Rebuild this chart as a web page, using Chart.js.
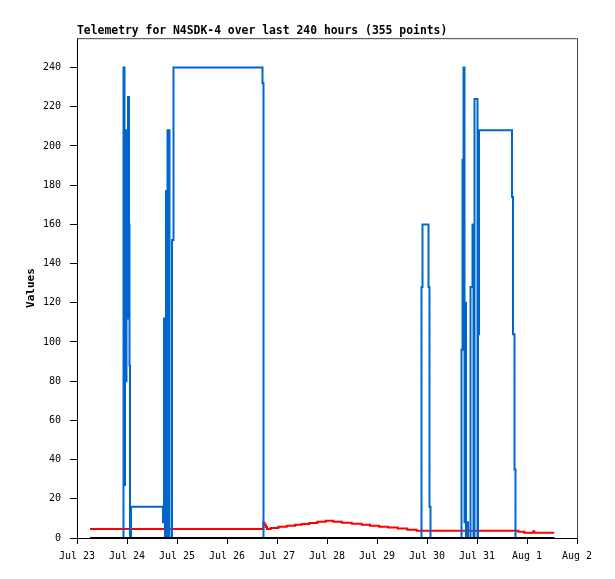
<!DOCTYPE html>
<html>
<head>
<meta charset="utf-8">
<script src="https://cdn.jsdelivr.net/npm/chart.js@4"></script>
<style>
  body { margin: 0; background: #fff; }
</style>
</head>
<body>
<canvas id="telemetry" width="615" height="579"></canvas>
<script>
// Axis labels (x values are days since Jul 23 00:00)
var dayLabels = ["Jul 23", "Jul 24", "Jul 25", "Jul 26", "Jul 27", "Jul 28", "Jul 29", "Jul 30", "Jul 31", "Aug 1", "Aug 2"];
var yTicks = [0, 20, 40, 60, 80, 100, 120, 140, 160, 180, 200, 220, 240];

// Blue series (stepped)
var blueDays = [0.26, 0.93, 0.95, 0.96, 0.97, 0.99, 1.01, 1.02, 1.04, 1.05, 1.06, 1.08,
    1.72, 1.74, 1.76, 1.78, 1.80, 1.81, 1.85, 1.90, 1.93, 3.71, 3.73,
    6.89, 6.91, 7.03, 7.05, 7.07,
    7.69, 7.71, 7.73, 7.75, 7.76, 7.78, 7.80, 7.82, 7.87, 7.91, 7.93, 7.95, 8.01, 8.02, 8.04,
    8.70, 8.72, 8.75, 8.77, 9.546];
var blueValues = [0, 240, 27, 133, 80, 208, 112, 225, 160, 88, 0, 16,
    8, 112, 0, 177, 0, 208, 0, 152, 240, 232, 0,
    128, 160, 128, 16, 0,
    96, 193, 240, 8, 120, 0, 8, 0, 128, 160, 0, 224, 0, 104, 208,
    174, 104, 35, 0, 0];

// Red series
var redDays = [0.26, 3.726, 3.75, 3.776, 3.80, 3.874, 4.026, 4.194, 4.36, 4.494, 4.646, 4.806, 4.974,
    5.126, 5.294, 5.494, 5.694, 5.86, 6.046, 6.226, 6.414, 6.606, 6.794, 8.826, 8.946, 9.126, 9.146, 9.546];
var redValues = [4.6, 7.8, 6.7, 5.6, 4.6, 5.1, 5.7, 6.2, 6.7, 7.2, 7.7, 8.3, 8.8,
    8.3, 7.8, 7.3, 6.8, 6.3, 5.8, 5.3, 4.8, 4.2, 3.7, 3.2, 2.7, 3.5, 2.7, 2.7];

// Black series
var blackDays = [0.26, 9.546];
var blackValues = [0, 0];

function toPoints(xs, ys) {
    return xs.map(function(x, i) { return { x: x, y: ys[i] }; });
}

var mono = "'DejaVu Sans Mono', 'Liberation Mono', monospace";

// grey top/right frame of the plot box
var frame = {
    id: "frame",
    beforeDatasetsDraw: function(chart) {
        var a = chart.chartArea, ctx = chart.ctx;
        ctx.save();
        ctx.strokeStyle = "#444";
        ctx.lineWidth = 1;
        ctx.beginPath();
        ctx.moveTo(a.left, a.top + 0.5);
        ctx.lineTo(a.right + 0.5, a.top + 0.5);
        ctx.lineTo(a.right + 0.5, a.bottom);
        ctx.stroke();
        ctx.restore();
    }
};

new Chart("telemetry", {
    type: "line",
    data: {
        datasets: [{
            data: toPoints(blackDays, blackValues),
            borderColor: "#000",
            borderWidth: 2,
            pointRadius: 0,
            order: 0
        }, {
            data: toPoints(blueDays, blueValues),
            borderColor: "#0066cc",
            borderWidth: 2,
            pointRadius: 0,
            stepped: true,
            order: 1
        }, {
            data: toPoints(redDays, redValues),
            borderColor: "#ff0000",
            borderWidth: 2,
            pointRadius: 0,
            stepped: true,
            order: 2
        }]
    },
    options: {
        responsive: false,
        animation: false,
        devicePixelRatio: 1,
        layout: { padding: { left: 0, right: 38, top: 0, bottom: 0 } },
        plugins: {
            legend: { display: false },
            tooltip: { enabled: false },
            title: {
                display: true,
                text: "Telemetry for N4SDK-4 over last 240 hours (355 points)",
                align: "start",
                fullSize: false,
                color: "#000",
                font: { family: mono, size: 11.4, weight: "bold", lineHeight: 1.2 },
                padding: { top: 24, bottom: 0.5 }
            }
        },
        scales: {
            x: {
                type: "linear",
                min: 0,
                max: 10,
                afterBuildTicks: function(scale) {
                    scale.ticks = dayLabels.map(function(l, i) { return { value: i }; });
                },
                afterFit: function(scale) { scale.height = 41; },
                ticks: {
                    color: "#000",
                    font: { family: mono, size: 10 },
                    padding: 6,
                    maxRotation: 0,
                    autoSkip: false,
                    callback: function(v) { return dayLabels[v]; }
                },
                grid: { drawOnChartArea: false, tickLength: 6, color: "#000" },
                border: { color: "#000" }
            },
            y: {
                min: 0,
                max: 255,
                afterBuildTicks: function(scale) {
                    scale.ticks = yTicks.map(function(v) { return { value: v }; });
                },
                afterFit: function(scale) { scale.width = 77; },
                ticks: {
                    color: "#000",
                    font: { family: mono, size: 10 },
                    padding: 9
                },
                grid: { drawOnChartArea: false, tickLength: 7, color: "#000" },
                border: { color: "#000" },
                title: {
                    display: true,
                    text: "Values",
                    color: "#000",
                    font: { family: mono, size: 11, weight: "bold" },
                    padding: { top: 25, bottom: 0 }
                }
            }
        }
    },
    plugins: [frame]
});
</script>
</body>
</html>
